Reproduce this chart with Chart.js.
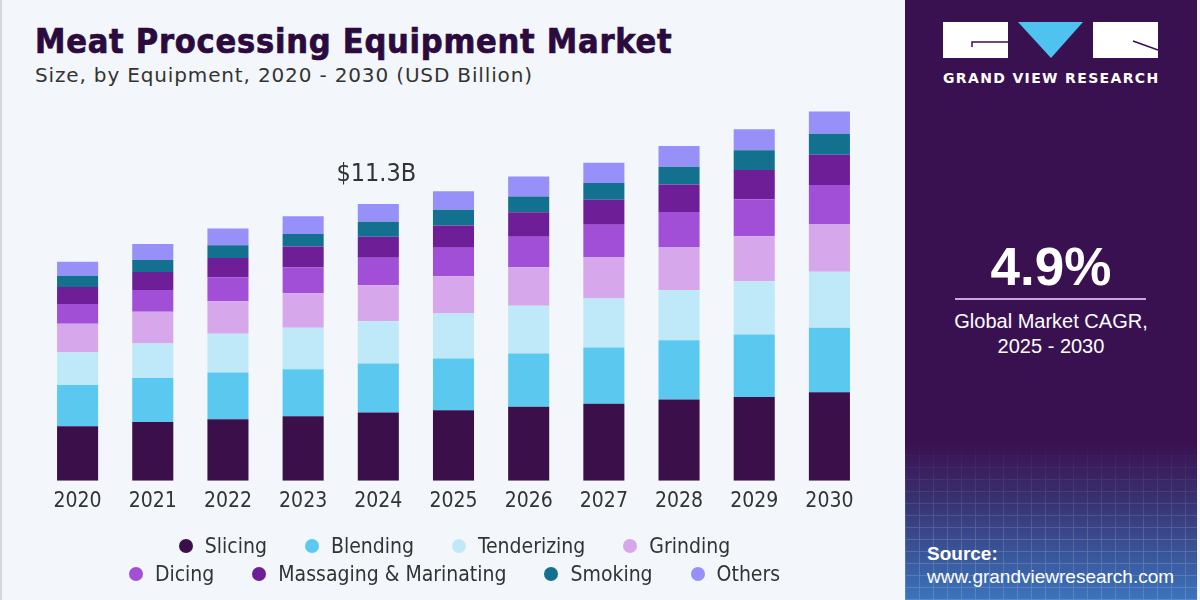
<!DOCTYPE html>
<html>
<head>
<meta charset="utf-8">
<script src="https://cdn.jsdelivr.net/npm/chart.js@4.4.1/dist/chart.umd.min.js"></script>
<style>
  html, body { margin:0; padding:0; }
  body { width:1200px; height:600px; position:relative; overflow:hidden; background:#f3f7fb; font-family:"DejaVu Sans Condensed","Liberation Sans Narrow","Roboto",sans-serif; }
  #left { position:absolute; left:0; top:0; width:905px; height:600px; background:#f3f7fb; border-left:2px solid #d4d8dd; box-sizing:border-box; }
  #title { position:absolute; left:33px; top:21px; font-size:34px; font-weight:bold; color:#2b0b3e; white-space:nowrap; letter-spacing:0.75px; -webkit-text-stroke:0.7px #2b0b3e; }
  #subtitle { position:absolute; left:33px; top:63px; font-family:"DejaVu Sans",sans-serif; font-size:20px; color:#333; white-space:nowrap; letter-spacing:0.85px; }
  #chartbox { position:absolute; left:0; top:0; width:905px; height:600px; }
  #legend { position:absolute; left:0; top:532px; width:905px; font-size:21px; color:#333; }
  .row { display:flex; justify-content:center; height:28px; align-items:center; }
  .item { display:flex; align-items:center; margin:0 19px; white-space:nowrap; }
  .dot { width:14px; height:14px; border-radius:50%; margin-right:12px; }
  #right { position:absolute; left:905px; top:0; width:292px; height:600px;
    background: linear-gradient(to bottom, #3a1150 0%, #3a1150 74%, #383474 84%, #3b74bd 100%); overflow:hidden; }
  #grid { position:absolute; left:0; top:440px; width:292px; height:160px; opacity:0.18;
    background-image: repeating-linear-gradient(90deg, rgba(255,255,255,0.8) 0 1px, transparent 1px 14px), repeating-linear-gradient(0deg, rgba(255,255,255,0.8) 0 1px, transparent 1px 12px);
    -webkit-mask-image: linear-gradient(to bottom, transparent, black 60%); }
  #brand { position:absolute; left:38px; top:70px; width:215px; text-align:center; color:#fff; font-family:"DejaVu Sans","Liberation Sans",sans-serif; font-weight:bold; font-size:14px; letter-spacing:1.35px; white-space:nowrap; }
  #cagr { position:absolute; left:0; top:236px; width:292px; text-align:center; color:#fff; font-family:"Liberation Sans","Arial",sans-serif; font-weight:bold; font-size:53px; }
  #hr { position:absolute; left:50px; top:298px; width:191px; height:2px; background:#c9a6e0; }
  #cagrtxt { position:absolute; left:0; top:309px; width:292px; text-align:center; color:#fff; font-size:20px; line-height:25px; font-family:"Liberation Sans","Arial",sans-serif; }
  #source { position:absolute; left:22px; top:542px; color:#fff; font-family:"Liberation Sans","Arial",sans-serif; font-size:19px; line-height:23px; }
</style>
</head>
<body>
<div id="left">
  <div id="title">Meat Processing Equipment Market</div>
  <div id="subtitle">Size, by Equipment, 2020 - 2030 (USD Billion)</div>
  <div id="chartbox"><canvas id="c"></canvas></div>
  <div id="legend"></div>
</div>
<div id="right">
  <div id="grid"></div>
  <svg width="292" height="70" style="position:absolute;left:0;top:0">
    <rect x="38" y="22" width="65" height="36" fill="#ffffff"/>
    <path d="M67 47 L67 42 L103 42" stroke="#3a1150" stroke-width="1.5" fill="none"/>
    <polygon points="113,22 178,22 146,58" fill="#4fc3f0"/>
    <rect x="188" y="22" width="65" height="36" fill="#ffffff"/>
    <path d="M228 41 L253 50" stroke="#3a1150" stroke-width="1.5" fill="none"/>
  </svg>
  <div id="brand">GRAND VIEW RESEARCH</div>
  <div id="cagr">4.9%</div>
  <div id="hr"></div>
  <div id="cagrtxt">Global Market CAGR,<br>2025 - 2030</div>
  <div id="source"><b>Source:</b><br>www.grandviewresearch.com</div>
</div>
<script>
const years = ["2020","2021","2022","2023","2024","2025","2026","2027","2028","2029","2030"];
const slicing      = [2.23, 2.40, 2.51, 2.64, 2.79, 2.88, 3.02, 3.15, 3.32, 3.42, 3.62];
const blending     = [1.68, 1.80, 1.91, 1.92, 2.00, 2.11, 2.18, 2.29, 2.42, 2.55, 2.63];
const tenderizing  = [1.34, 1.41, 1.59, 1.69, 1.73, 1.84, 1.95, 2.00, 2.04, 2.18, 2.29];
const grinding     = [1.16, 1.29, 1.32, 1.41, 1.47, 1.52, 1.57, 1.70, 1.77, 1.84, 1.95];
const dicing       = [0.81, 0.89, 0.97, 1.05, 1.12, 1.17, 1.25, 1.32, 1.43, 1.51, 1.59];
const massaging    = [0.69, 0.74, 0.80, 0.86, 0.86, 0.91, 1.00, 1.02, 1.12, 1.19, 1.23];
const smoking      = [0.46, 0.49, 0.52, 0.51, 0.61, 0.64, 0.64, 0.68, 0.72, 0.81, 0.86];
const others       = [0.58, 0.65, 0.68, 0.72, 0.72, 0.75, 0.82, 0.83, 0.85, 0.86, 0.91];
const seriesNames  = ["Slicing","Blending","Tenderizing","Grinding","Dicing","Massaging & Marinating","Smoking","Others"];
const seriesColors = ["#3b0f4a","#5bc8f0","#bfe9f9","#d6a7ea","#a24fd8","#6e1e96","#14708f","#9690f8"];
const calloutYear = "2024";
const calloutText = "$11.3B";

const seriesData = [slicing, blending, tenderizing, grinding, dicing, massaging, smoking, others];
const datasets = seriesNames.map((n,i)=>({
  label:n, data:seriesData[i], backgroundColor:seriesColors[i], borderWidth:0,
  categoryPercentage:0.9, barPercentage:0.607
}));

// HTML legend (2 rows of 4)
const lg = document.getElementById('legend');
[[0,1,2,3],[4,5,6,7]].forEach(r=>{
  const row = document.createElement('div'); row.className='row';
  r.forEach(i=>{
    const it=document.createElement('div'); it.className='item';
    it.innerHTML='<span class="dot" style="background:'+seriesColors[i]+'"></span>'+seriesNames[i];
    row.appendChild(it);
  });
  lg.appendChild(row);
});

const callout = {
  id:'callout',
  afterDatasetsDraw(chart){
    const idx = years.indexOf(calloutYear);
    const total = seriesData.reduce((s,a)=>s+a[idx],0);
    const x = chart.scales.x.getPixelForValue(idx);
    const y = chart.scales.y.getPixelForValue(total);
    const ctx = chart.ctx;
    ctx.save();
    ctx.font = '25px "DejaVu Sans Condensed","Liberation Sans Narrow",sans-serif';
    ctx.fillStyle = '#333';
    ctx.textAlign='center'; ctx.textBaseline='middle';
    ctx.fillText(calloutText, x - 2, y-30);
    ctx.restore();
  }
};

new Chart(document.getElementById('c'), {
  type:'bar',
  data:{ labels:years, datasets },
  options:{
    responsive:true, maintainAspectRatio:false, animation:false,
    layout:{ padding:{ left:38, right:40, top:89, bottom:78 } },
    plugins:{ legend:{display:false}, tooltip:{enabled:false} },
    scales:{
      x:{ stacked:true, grid:{display:false, drawTicks:false}, border:{display:false},
          ticks:{ color:'#333', padding:8, font:{ family:'"DejaVu Sans Condensed","Liberation Sans Narrow",sans-serif', size:21 } } },
      y:{ stacked:true, display:false, min:0, max:16 }
    }
  },
  plugins:[callout]
});
</script>
</body>
</html>
